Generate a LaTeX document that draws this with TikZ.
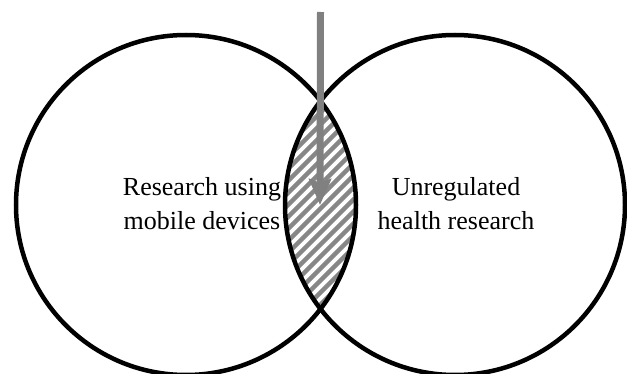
\documentclass[tikz,border=0pt]{standalone}
\usepackage{fontspec}
\setmainfont{Liberation Serif}
\usetikzlibrary{arrows.meta}
\definecolor{hatchgray}{HTML}{878787}
\definecolor{arrowgray}{HTML}{808080}
\tikzset{
  setring/.style={circle, draw=black, line width=4.5pt, minimum size=340pt, inner sep=0pt},
  setlabel/.style={align=center, font=\fontsize{26}{34}\selectfont},
  hatchline/.style={draw=hatchgray, line width=4.3pt},
  pointer/.style={draw=arrowgray, line width=7pt, -{Stealth[length=26pt, width=22pt, inset=4pt]}}
}
\begin{document}
\begin{tikzpicture}[x=1pt, y=1pt]
  \useasboundingbox (0,0) rectangle (627,373);
  % striped overlap of the two sets
  \begin{scope}
    \clip (186,168) circle (170);
    \clip (455,168) circle (170);
    \foreach \c in {-24,-12,...,312}
      \draw[hatchline] (\c+40,40) -- (\c+320,320);
  \end{scope}
  % the two sets
  \node[setring] (mobile) at (186,168) {};
  \node[setring] (unreg) at (455,168) {};
  \node[setlabel] (mobiletext) at (202,169) {Research using\\mobile devices};
  \node[setlabel] (unregtext) at (456,169) {Unregulated\\health research};
  % arrow pointing into the overlap
  \coordinate (arrowtop) at (320.5,361);
  \coordinate (arrowtip) at (320,168);
  \draw[pointer] (arrowtop) -- (arrowtip);
\end{tikzpicture}
\end{document}
